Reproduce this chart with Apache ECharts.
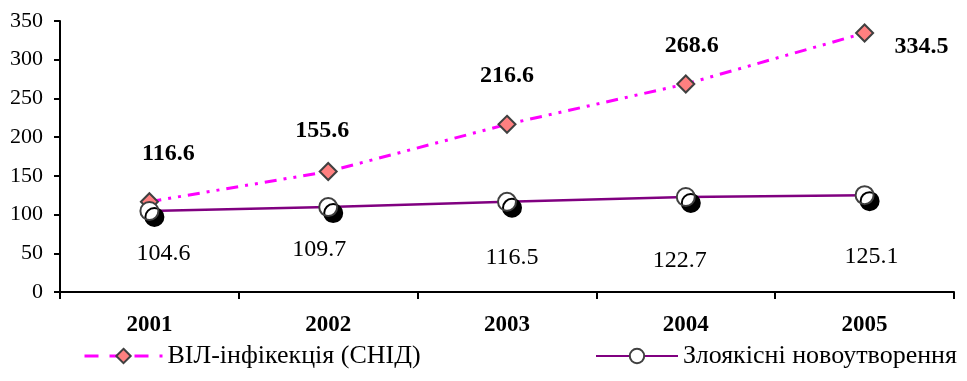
<!DOCTYPE html>
<html><head><meta charset="utf-8">
<script src="https://cdn.jsdelivr.net/npm/echarts@6/dist/echarts.min.js"></script>
<style>html,body{margin:0;padding:0;background:#fff}#c{width:967px;height:381px}</style>
</head><body><div id="c"></div>
<script>
const years = ['2001','2002','2003','2004','2005'];
const hivName = 'ВІЛ-інфікекція (СНІД)';
const cancerName = 'Злоякісні новоутворення';
const hivValues = [116.6, 155.6, 216.6, 268.6, 334.5];
const cancerValues = [104.6, 109.7, 116.5, 122.7, 125.1];
const yTicks = [0, 50, 100, 150, 200, 250, 300, 350];

// label offsets (styling only)
const hivLabelOffsets = [[19,-48],[-6,-41],[0,-48],[6,-38],[57,14]];
const cancerLabelOffsets = [[14,43],[-9,43],[5,56],[-6,64],[7,62]];

const font = '"Liberation Serif","DejaVu Serif",serif';
const chart = echarts.init(document.getElementById('c'));
chart.setOption({
  animation: false,
  grid: {left: 60, right: 13, top: 21, bottom: 89},
  legend: [
    {data: [hivName], left: 78, top: 338, itemWidth: 78, itemHeight: 18, itemGap: 10,
     lineStyle: {type: [14, 11], width: 3},
     textStyle: {fontFamily: font, fontSize: 26, color: '#000'}},
    {data: [cancerName], left: 590, top: 338, itemWidth: 82, itemHeight: 18,
     textStyle: {fontFamily: font, fontSize: 26, color: '#000'}}
  ],
  xAxis: {
    type: 'category', data: years, boundaryGap: true,
    axisLine: {lineStyle: {color: '#000', width: 2}},
    axisTick: {show: true, length: 7, lineStyle: {color: '#000', width: 2}},
    axisLabel: {fontFamily: font, fontSize: 23, fontWeight: 'bold', color: '#000', margin: 22}
  },
  yAxis: {
    type: 'value', min: yTicks[0], max: yTicks[yTicks.length-1], interval: 50,
    splitLine: {show: false},
    axisLine: {show: true, lineStyle: {color: '#000', width: 2}},
    axisTick: {show: true, length: 6, lineStyle: {color: '#000', width: 2}},
    axisLabel: {fontFamily: font, fontSize: 22, color: '#000', margin: 17}
  },
  series: [
    {
      name: hivName, type: 'line',
      data: hivValues.map((v,i)=>({value: v, label: {offset: hivLabelOffsets[i]}})),
      symbol: 'diamond', symbolSize: 17,
      lineStyle: {color: '#FF00FF', width: 3, type: [12,7,3,7,3,7]},
      itemStyle: {color: '#FF8080', borderColor: '#404040', borderWidth: 2},
      label: {show: true, position: 'inside', fontFamily: font, fontSize: 24, fontWeight: 'bold', color: '#000',
        formatter: p => p.value.toFixed(1)},
      z: 2
    },
    {
      name: cancerName, type: 'line',
      data: cancerValues.map((v,i)=>({value: v, label: {offset: cancerLabelOffsets[i]}})),
      symbol: 'circle', symbolSize: 18,
      lineStyle: {color: '#800080', width: 2.5, shadowBlur: 0, shadowColor: 'transparent'},
      itemStyle: {color: '#FFFFFF', borderColor: '#404040', borderWidth: 2,
        shadowColor: '#000', shadowBlur: 0, shadowOffsetX: 5, shadowOffsetY: 6},
      label: {show: true, position: 'inside', fontFamily: font, fontSize: 24, color: '#000',
        formatter: p => p.value.toFixed(1)},
      z: 3
    }
  ]
});
</script>
</body></html>
